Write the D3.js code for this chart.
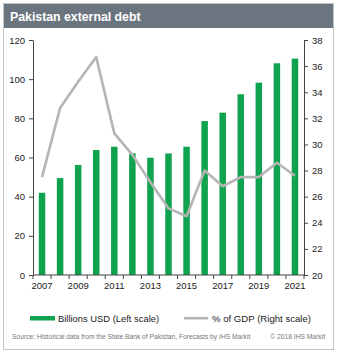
<!DOCTYPE html>
<html><head><meta charset="utf-8">
<script src="https://cdn.jsdelivr.net/npm/d3@7"></script>
<style>body{margin:0;background:#fff;font-family:"Liberation Sans",Arial,sans-serif}</style>
</head><body><svg id="c" width="341" height="357"></svg>
<script>
const years = [2007,2008,2009,2010,2011,2012,2013,2014,2015,2016,2017,2018,2019,2020,2021];
const debtBillions = [42.0,49.5,56.2,63.8,65.5,62.1,59.9,62.1,65.5,78.6,82.9,92.3,98.2,108.1,110.5];
const debtPctGdp = [27.5,32.8,34.8,36.7,30.85,29.2,27.1,25.1,24.5,28.0,26.8,27.5,27.5,28.6,27.6];
const leftTicks = [0,20,40,60,80,100,120];
const rightTicks = [20,22,24,26,28,30,32,34,36,38];
const xLabels = [2007,2009,2011,2013,2015,2017,2019,2021];

const svg = d3.select("#c");
const green = "#0fa24f", grey = "#b5b5b5";
// frame
svg.append("rect").attr("x",3.5).attr("y",3.5).attr("width",330).attr("height",346)
  .attr("fill","#fff").attr("stroke","#c4c4c4");
svg.append("rect").attr("x",4).attr("y",4).attr("width",329).attr("height",24).attr("fill","#6b7580");
svg.append("text").attr("x",10).attr("y",21).attr("fill","#fff").attr("font-weight","bold")
  .attr("font-size",12.3).text("Pakistan external debt");

const L = 33, R = 304, T = 40, B = 275;
const x = d3.scaleBand().domain(years).range([L,R]).paddingInner(0.64).paddingOuter(0.32);
const xb = d3.scaleBand().domain(years).range([L,R]);
const yL = d3.scaleLinear().domain([0,120]).range([B,T]);
const yR = d3.scaleLinear().domain([20,38]).range([B,T]);

// bars
svg.append("g").selectAll("rect").data(years).join("rect")
  .attr("x",d=>x(d)).attr("width",x.bandwidth())
  .attr("y",(d,i)=>yL(debtBillions[i])).attr("height",(d,i)=>B-yL(debtBillions[i]))
  .attr("fill",green);

// line
const line = d3.line().x((d,i)=>xb(years[i])+xb.bandwidth()/2).y(d=>yR(d));
svg.append("path").datum(debtPctGdp).attr("d",line).attr("fill","none")
  .attr("stroke",grey).attr("stroke-width",2.6).attr("stroke-linejoin","round");

// axes
const axStyle = g=>{g.selectAll("text").attr("font-size",9.5).attr("fill","#222")
  .attr("font-family","'Liberation Sans',Arial,sans-serif");
  g.selectAll("line,path").attr("stroke","#444");};
svg.append("g").attr("transform",`translate(${L},0)`)
  .call(d3.axisLeft(yL).tickValues(leftTicks).tickSize(4).tickSizeOuter(0).tickPadding(4))
  .call(axStyle);
svg.append("g").attr("transform",`translate(${R},0)`)
  .call(d3.axisRight(yR).tickValues(rightTicks).tickSize(4).tickSizeOuter(0).tickPadding(4))
  .call(axStyle);
const xg = svg.append("g").attr("transform",`translate(0,${B})`);
xg.append("line").attr("x1",L).attr("x2",R).attr("stroke","#444");
xg.selectAll("line.t").data(years.concat([null])).join("line").attr("class","t")
  .attr("x1",(d,i)=>L+i*xb.step()).attr("x2",(d,i)=>L+i*xb.step())
  .attr("y1",0).attr("y2",4).attr("stroke","#444");
xg.selectAll("text").data(xLabels).join("text")
  .attr("x",d=>xb(d)+xb.bandwidth()/2).attr("y",14).attr("text-anchor","middle")
  .attr("font-size",9.5).attr("fill","#222").text(d=>d);

// legend
const lg = svg.append("g");
lg.append("rect").attr("x",30).attr("y",316).attr("width",25).attr("height",4.5).attr("fill",green);
lg.append("text").attr("x",58).attr("y",322).attr("font-size",9.4).attr("fill","#222").text("Billions USD (Left scale)");
lg.append("line").attr("x1",184).attr("x2",208).attr("y1",318.2).attr("y2",318.2).attr("stroke",grey).attr("stroke-width",2.6);
lg.append("text").attr("x",212).attr("y",322).attr("font-size",9.6).attr("fill","#222").text("% of GDP (Right scale)");

// source
svg.append("text").attr("x",12).attr("y",339).attr("font-size",6.7).attr("fill","#777")
  .text("Source: Historical data from the State Bank of Pakistan, Forecasts by IHS Markit");
svg.append("text").attr("x",325).attr("y",339).attr("font-size",6.7).attr("fill","#777").attr("text-anchor","end")
  .text("© 2018 IHS Markit");
</script></body></html>
